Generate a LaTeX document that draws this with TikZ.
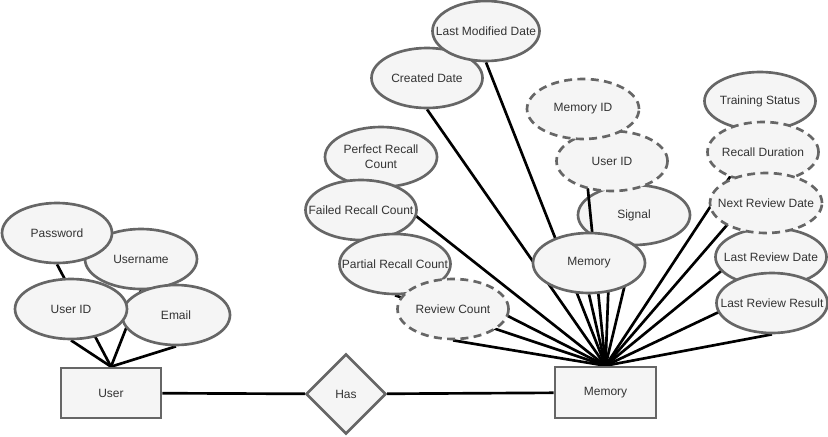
\documentclass[tikz,border=0pt]{standalone}
\usepackage{fontspec}
\setmainfont{Liberation Sans}
\usetikzlibrary{shapes.geometric}
\definecolor{fillc}{HTML}{F5F5F5}
\definecolor{edgec}{HTML}{666666}
\definecolor{txtc}{HTML}{333333}
\pgfdeclarelayer{bg}
\pgfdeclarelayer{sigl}
\pgfdeclarelayer{midline}
\pgfsetlayers{bg,sigl,midline,main}
\tikzset{
  base/.style={draw=edgec, fill=fillc, line width=2pt, inner sep=0pt},
  attr/.style={base, ellipse, minimum width=84pt, minimum height=45pt},
  wkattr/.style={attr, dash pattern=on 6pt off 4pt},
  txt/.style={text=txtc, font=\fontsize{9}{11}\selectfont, align=center, inner sep=0pt},
  entity/.style={base, rectangle, minimum width=75pt, minimum height=37.5pt, text=txtc, font=\fontsize{9}{11}\selectfont},
  rel/.style={base, diamond, minimum width=60pt, minimum height=60pt, text=txtc, font=\fontsize{9}{11}\selectfont},
  conn/.style={draw=black, line width=2pt}
}
\newcommand{\attrnode}[5]{\node[#1, label={[txt]center:#5}] (#2) at (#3,#4) {};}
\begin{document}
\begin{tikzpicture}[x=0.75pt, y=-0.75pt]
\useasboundingbox (0,0) rectangle (828,436);
% entities and relation
\node[entity] (user) at (111,393) {User};
\node[rel] (has) at (346,394) {Has};
\node[entity, minimum width=75.75pt, minimum height=38.25pt] (memory) at (605.5,392.5) {Memory};
% user attributes
\attrnode{attr}{un}{141}{259}{Username}
\attrnode{attr, minimum width=81pt}{em}{176}{315}{Email}
\attrnode{attr, minimum width=82.5pt}{pw}{57}{233}{Password}
\attrnode{attr}{uid}{71}{309}{User ID}
% memory attributes (left)
\attrnode{attr, minimum width=83.25pt}{cd}{427}{78}{Created Date}
\attrnode{attr, minimum width=80.25pt}{lmd}{486}{31}{Last Modified Date}
\attrnode{attr}{prc}{381}{157}{Perfect Recall\\Count}
\attrnode{attr, minimum width=83.25pt}{frc}{361}{210}{Failed Recall Count}
\attrnode{attr, minimum width=83.25pt}{parc}{395}{264}{Partial Recall Count}
\attrnode{wkattr, minimum width=83.25pt}{rc}{453}{309}{Review Count}
% memory attributes (middle)
\begin{pgfonlayer}{sigl}
\attrnode{attr}{sig}{634}{215}{Signal}
\end{pgfonlayer}
\attrnode{wkattr, minimum width=83.25pt}{muid}{612}{161}{User ID}
\attrnode{wkattr}{mid}{583}{109}{Memory ID}
\attrnode{attr}{mem}{589}{263}{Memory}
% memory attributes (right)
\attrnode{attr, minimum width=83.25pt, minimum height=43.5pt}{ts}{760}{101}{Training Status}
\attrnode{wkattr, minimum width=83.25pt}{rd}{763}{152}{Recall Duration}
\attrnode{attr, minimum width=83.25pt, minimum height=43.5pt}{lrd}{771}{257}{Last Review Date}
\attrnode{wkattr}{nrd}{766}{203}{Next Review Date}
\attrnode{attr, minimum width=83.25pt}{lrr}{772}{303}{Last Review Result}
% connectors
\begin{pgfonlayer}{bg}
\draw[conn] (user) -- (has);
\draw[conn] (has) -- (memory);
\foreach \a in {pw,un,uid,em}
  \draw[conn] (\a.south) -- (user.north);
\foreach \a in {lmd,cd,prc,frc,parc,rc,muid,sig,mem,ts,rd,nrd,lrd,lrr}
  \draw[conn] (\a.south) -- (memory.north);
\end{pgfonlayer}
\begin{pgfonlayer}{midline}
\draw[conn] (mid.south) -- (memory.north);
\end{pgfonlayer}
\end{tikzpicture}
\end{document}
